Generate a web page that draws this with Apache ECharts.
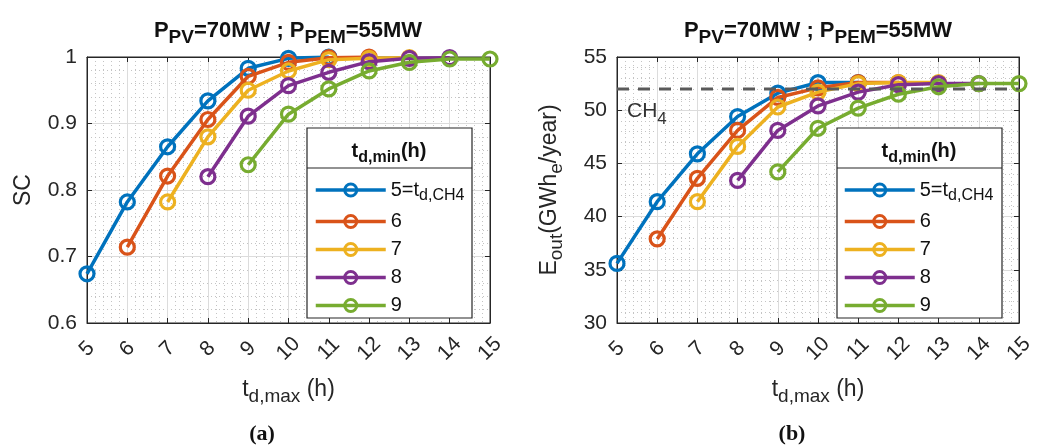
<!DOCTYPE html>
<html>
<head>
<meta charset="utf-8">
<script src="https://cdn.jsdelivr.net/npm/echarts@6/dist/echarts.min.js"></script>
<style>
html,body{margin:0;padding:0;background:#fff;}
#chart{width:1040px;height:446px;}
</style>
</head>
<body>
<div id="chart"></div>
<script>
// ---- data ----
const xTicks = [5, 6, 7, 8, 9, 10, 11, 12, 13, 14, 15];
const seriesNames = ['5', '6', '7', '8', '9'];
const startX = [5, 6, 7, 8, 9];
const sc5 = [0.674, 0.782, 0.865, 0.934, 0.983, 0.998, 1.0];
const sc6 = [0.714, 0.821, 0.906, 0.971, 0.992, 0.999, 1.0];
const sc7 = [0.782, 0.880, 0.950, 0.979, 0.996, 0.998, 0.999];
const sc8 = [0.820, 0.911, 0.957, 0.977, 0.993, 0.998, 0.999];
const sc9 = [0.838, 0.914, 0.952, 0.979, 0.992, 0.997, 0.997];
const e5 = [35.6, 41.4, 45.9, 49.4, 51.6, 52.6, 52.6];
const e6 = [37.9, 43.6, 48.1, 51.2, 52.1, 52.6, 52.6];
const e7 = [41.4, 46.6, 50.3, 51.7, 52.5, 52.6, 52.6];
const e8 = [43.4, 48.1, 50.4, 51.7, 52.4, 52.5, 52.5];
const e9 = [44.2, 48.3, 50.2, 51.5, 52.2, 52.5, 52.5];
const ch4Level = 52.0;
const scTicks = [0.6, 0.7, 0.8, 0.9, 1];
const eTicks = [30, 35, 40, 45, 50, 55];

const colors = ['#0072BD', '#D95319', '#EDB120', '#7E2F8E', '#77AC30'];
const FONT = 'Liberation Sans, Arial, Helvetica, sans-serif';
const scSets = [sc5, sc6, sc7, sc8, sc9];
const eSets = [e5, e6, e7, e8, e9];

const grids = [
  {left: 87, top: 57, width: 403, height: 266},
  {left: 617, top: 57, width: 402, height: 266}
];

function toPairs(start, vals) { return vals.map((v, i) => [start + i, v]); }

const nameRich = {
  m: {fontSize: 23, color: '#262626', fontFamily: FONT},
  s: {fontSize: 19, color: '#262626', fontFamily: FONT, padding: [14, 0, 0, 0]}
};

function mkX(gi, pos) {
  const main = pos === 'bottom';
  return {
    type: 'value', gridIndex: gi, position: pos,
    min: xTicks[0], max: xTicks[xTicks.length - 1], interval: 1,
    axisLine: {show: true, lineStyle: {color: '#262626', width: 1}},
    axisTick: {show: true, inside: true, length: 5, lineStyle: {color: '#262626'}},
    minorTick: {show: false, splitNumber: 5},
    splitLine: {show: main, lineStyle: {color: '#dcdcdc', width: 1}},
    minorSplitLine: {show: main, lineStyle: {color: '#c4c4c4', width: 1, type: [1, 3]}},
    axisLabel: {show: main, rotate: 45, fontSize: 21, color: '#262626', fontFamily: FONT,
      margin: 26, align: 'center', verticalAlign: 'middle'},
    name: main ? '{m|t}{s|d,max}{m| (h)}' : '',
    nameLocation: 'middle', nameGap: 50,
    nameTextStyle: {rich: nameRich}
  };
}
function mkY(gi, pos, ticks, name, gap, digits) {
  const main = pos === 'left';
  return {
    type: 'value', gridIndex: gi, position: pos,
    min: ticks[0], max: ticks[ticks.length - 1], interval: ticks[1] - ticks[0],
    axisLine: {show: true, lineStyle: {color: '#262626', width: 1}},
    axisTick: {show: true, inside: true, length: 5, lineStyle: {color: '#262626'}},
    splitLine: {show: main, lineStyle: {color: '#dcdcdc', width: 1}},
    minorTick: {show: false, splitNumber: 5},
    minorSplitLine: {show: main, lineStyle: {color: '#c4c4c4', width: 1, type: [1, 3]}},
    axisLabel: {show: main, fontSize: 21, color: '#262626', fontFamily: FONT, margin: 10,
      formatter: v => String(+(+v).toFixed(digits))},
    name: main ? name : '',
    nameLocation: 'middle', nameGap: gap, nameRotate: 90,
    nameTextStyle: {rich: nameRich}
  };
}

const xAxes = [mkX(0, 'bottom'), mkX(1, 'bottom'), mkX(0, 'top'), mkX(1, 'top')];
const yAxes = [
  mkY(0, 'left', scTicks, '{m|SC}', 52, 1),
  mkY(1, 'left', eTicks, '{m|E}{s|out}{m|(GWh}{s|e}{m|/year)}', 51, 0),
  mkY(0, 'right', scTicks, '', 0, 1),
  mkY(1, 'right', eTicks, '', 0, 0)
];

const series = [];
[scSets, eSets].forEach((sets, gi) => {
  sets.forEach((vals, k) => {
    series.push({
      name: seriesNames[k], type: 'line',
      xAxisIndex: gi, yAxisIndex: gi,
      data: toPairs(startX[k], vals),
      symbol: 'circle', symbolSize: 14,
      lineStyle: {color: colors[k], width: 3.5},
      itemStyle: {color: 'rgba(255,255,255,0)', borderColor: colors[k], borderWidth: 3.2},
      emphasis: {disabled: true},
      animation: false, z: 3 + k
    });
  });
});
// CH4 reference line
series.push({
  name: 'CH4', type: 'line', xAxisIndex: 1, yAxisIndex: 1,
  data: [[xTicks[0], ch4Level], [xTicks[xTicks.length - 1], ch4Level]],
  symbol: 'none', lineStyle: {color: '#5a5a5a', width: 3, type: [12, 9]},
  animation: false, z: 10, silent: true
});

const legendRich = {
  m: {fontSize: 20, color: '#111', fontFamily: FONT},
  s: {fontSize: 16, color: '#111', fontFamily: FONT, padding: [11, 0, 0, 0]}
};
function mkLegend(left) {
  return {
    data: seriesNames, orient: 'vertical', left: left, top: 180,
    itemWidth: 70, itemHeight: 15, itemGap: 8, padding: 0, z: 120,
    selectedMode: false,
    lineStyle: {width: 3.5},
    itemStyle: {borderWidth: 3},
    formatter: n => n === '5' ? '{m|5=t}{s|d,CH4}' : '{m|' + n + '}',
    textStyle: {rich: legendRich, padding: [0, 0, 0, 0]}
  };
}

function titleText(cx) {
  return {
    type: 'text', x: cx, y: 31, z: 50,
    style: {
      text: '{b|P}{bs|PV}{b|=70MW ; P}{bs|PEM}{b|=55MW}', align: 'center', verticalAlign: 'middle',
      rich: {
        b: {fontSize: 22, fontWeight: 'bold', fill: '#111', fontFamily: FONT},
        bs: {fontSize: 19, fontWeight: 'bold', fill: '#111', fontFamily: FONT, padding: [14, 0, 0, 0]}
      }
    }
  };
}
function legendBox(x) {
  return [
    {type: 'rect', shape: {x: x, y: 128, width: 165, height: 190}, style: {fill: '#fff', stroke: '#262626', lineWidth: 1.2}, z: 100},
    {type: 'line', shape: {x1: x, y1: 168, x2: x + 165, y2: 168}, style: {stroke: '#262626', lineWidth: 1.2}, z: 101},
    {type: 'text', x: x + 82, y: 151, z: 101,
      style: {
        text: '{b|t}{bs|d,min}{b|(h)}', align: 'center', verticalAlign: 'middle',
        rich: {
          b: {fontSize: 20, fontWeight: 'bold', fill: '#111', fontFamily: FONT},
          bs: {fontSize: 16, fontWeight: 'bold', fill: '#111', fontFamily: FONT, padding: [13, 0, 0, 0]}
        }
      }}
  ];
}

const graphic = [
  titleText(288), titleText(818),
  ...legendBox(307), ...legendBox(837),
  {type: 'text', x: 627, y: 95, z: 50,
    style: {text: '{m|CH}{s|4}', rich: {
      m: {fontSize: 21, fill: '#333', fontFamily: FONT},
      s: {fontSize: 17, fill: '#333', fontFamily: FONT, padding: [16, 0, 0, 0]}
    }}},
  {type: 'text', x: 262, y: 434, z: 50,
    style: {text: '(a)', align: 'center', verticalAlign: 'middle', fontSize: 22, fontFamily: 'Liberation Serif, DejaVu Serif, serif', fontWeight: 'bold', fill: '#111'}},
  {type: 'text', x: 792, y: 434, z: 50,
    style: {text: '(b)', align: 'center', verticalAlign: 'middle', fontSize: 22, fontFamily: 'Liberation Serif, DejaVu Serif, serif', fontWeight: 'bold', fill: '#111'}}
];

const chart = echarts.init(document.getElementById('chart'), null, {renderer: 'canvas'});
chart.setOption({
  backgroundColor: '#fff',
  animation: false,
  grid: grids.map(g => Object.assign({show: true, borderColor: '#262626', borderWidth: 1, backgroundColor: '#fff', outerBoundsMode: 'none', containLabel: false}, g)),
  xAxis: xAxes,
  yAxis: yAxes,
  legend: [mkLegend(314), mkLegend(843)],
  series: series,
  graphic: graphic
});
</script>
</body>
</html>
